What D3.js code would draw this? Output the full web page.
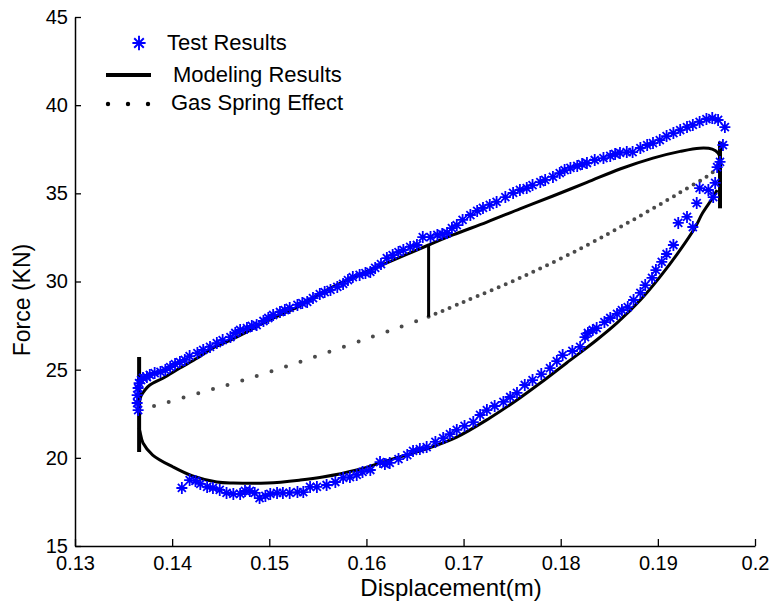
<!DOCTYPE html>
<html>
<head>
<meta charset="utf-8">
<script src="https://cdn.jsdelivr.net/npm/d3@7"></script>
<style>
  html, body { margin: 0; padding: 0; background: #fff; }
  text { font-family: "Liberation Sans", Arial, sans-serif; }
</style>
</head>
<body>
<svg id="chart" width="771" height="607"></svg>
<script>
// ---- data ----
const xTicks = [0.13, 0.14, 0.15, 0.16, 0.17, 0.18, 0.19, 0.2];
const xTickLabels = ["0.13", "0.14", "0.15", "0.16", "0.17", "0.18", "0.19", "0.2"];
const yTicks = [15, 20, 25, 30, 35, 40, 45];
const yTickLabels = ["15", "20", "25", "30", "35", "40", "45"];
const legendLabels = ["Test Results", "Modeling Results", "Gas Spring Effect"];

// Test results (upper branch, loading)
const testUpperX = [0.1364,0.1364,0.1365,0.1365,0.1366,0.1368,0.1370,0.1374,0.1377,0.1382,0.1388,0.1393,0.1398,0.1403,0.1408,0.1413,0.1418,0.1426,0.1432,0.1439,0.1446,0.1452,0.1460,0.1465,0.1470,0.1477,0.1482,0.1487,0.1494,0.1499,0.1504,0.1511,0.1516,0.1521,0.1529,0.1534,0.1539,0.1545,0.1552,0.1557,0.1563,0.1570,0.1576,0.1581,0.1586,0.1593,0.1599,0.1604,0.1609,0.1615,0.1621,0.1627,0.1633,0.1638,0.1645,0.1652,0.1658,0.1666,0.1673,0.1678,0.1683,0.1688,0.1693,0.1699,0.1707,0.1714,0.1720,0.1727,0.1734,0.1743,0.1751,0.1758,0.1765,0.1771,0.1779,0.1784,0.1792,0.1799,0.1804,0.1810,0.1817,0.1822,0.1827,0.1835,0.1844,0.1851,0.1856,0.1861,0.1868,0.1874,0.1882,0.1889,0.1895,0.1902,0.1909,0.1916,0.1923,0.1930,0.1936,0.1943,0.1950,0.1956,0.1962,0.1969];
const testUpperY = [23.11,23.56,23.96,22.71,24.24,24.41,24.53,24.58,24.70,24.81,24.87,24.98,25.15,25.32,25.43,25.55,25.77,25.94,26.12,26.29,26.51,26.68,26.85,27.08,27.25,27.36,27.48,27.53,27.76,27.93,28.10,28.27,28.38,28.50,28.67,28.78,28.84,29.06,29.29,29.40,29.52,29.69,29.86,30.08,30.25,30.37,30.48,30.54,30.77,30.99,31.33,31.50,31.67,31.79,31.96,32.07,32.52,32.52,32.64,32.69,32.75,33.03,33.20,33.49,33.77,34.00,34.17,34.34,34.51,34.79,35.02,35.19,35.30,35.47,35.64,35.76,35.93,36.15,36.32,36.44,36.55,36.66,36.72,36.89,37.00,37.12,37.23,37.29,37.34,37.34,37.57,37.74,37.85,38.02,38.25,38.42,38.59,38.76,38.88,39.05,39.21,39.27,39.16,38.76];

// Test results (lower branch, unloading)
const testLowerX = [0.1967,0.1964,0.1961,0.1959,0.1957,0.1952,0.1943,0.1940,0.1936,0.1930,0.1921,0.1916,0.1909,0.1904,0.1898,0.1894,0.1887,0.1882,0.1875,0.1869,0.1863,0.1858,0.1851,0.1845,0.1837,0.1833,0.1828,0.1825,0.1820,0.1812,0.1802,0.1796,0.1789,0.1780,0.1771,0.1763,0.1755,0.1748,0.1741,0.1732,0.1724,0.1717,0.1710,0.1701,0.1693,0.1686,0.1679,0.1671,0.1662,0.1655,0.1648,0.1642,0.1633,0.1624,0.1619,0.1614,0.1604,0.1596,0.1590,0.1583,0.1576,0.1568,0.1559,0.1549,0.1542,0.1535,0.1529,0.1521,0.1514,0.1508,0.1501,0.1496,0.1490,0.1485,0.1480,0.1475,0.1470,0.1463,0.1456,0.1449,0.1442,0.1436,0.1429,0.1424,0.1418,0.1410];
const testLowerY = [37.74,36.78,36.49,35.59,34.79,35.19,35.30,34.45,33.09,33.66,33.32,32.07,31.56,31.11,30.65,30.20,29.80,29.35,28.95,28.55,28.38,28.16,27.93,27.70,27.36,27.25,27.08,26.85,26.29,26.06,25.83,25.49,25.09,24.75,24.41,24.13,23.68,23.45,23.17,22.94,22.71,22.43,22.03,21.81,21.58,21.35,21.12,20.90,20.61,20.50,20.39,20.16,19.93,19.71,19.65,19.76,19.31,19.20,19.03,18.91,18.86,18.63,18.46,18.35,18.35,18.06,18.06,18.01,18.01,18.01,17.95,17.84,17.72,18.01,18.12,18.12,17.95,17.95,18.01,18.18,18.29,18.35,18.52,18.69,18.74,18.29];

// Modeling results
const modelUpperX = [0.1366,0.1368,0.1372,0.1377,0.1391,0.1408,0.1426,0.1442,0.1460,0.1477,0.1494,0.1511,0.1529,0.1545,0.1563,0.1586,0.1621,0.1664,0.1689,0.1724,0.1758,0.1792,0.1827,0.1861,0.1895,0.1923,0.1943,0.1956,0.1962,0.1965];
const modelUpperY = [23.11,23.51,23.85,24.13,24.53,25.09,25.66,26.23,26.68,27.14,27.65,28.10,28.55,29.06,29.63,30.22,31.05,32.07,32.64,33.37,34.12,34.85,35.62,36.38,37.00,37.38,37.56,37.51,37.29,36.89];
const modelLowerX = [0.1961,0.1957,0.1946,0.1938,0.1923,0.1902,0.1882,0.1858,0.1837,0.1806,0.1779,0.1755,0.1727,0.1693,0.1658,0.1624,0.1590,0.1555,0.1532,0.1498,0.1463,0.1446,0.1421,0.1401,0.1380,0.1370,0.1367,0.1366];
const modelLowerY = [35.19,34.79,33.88,33.03,31.79,30.25,28.95,27.65,26.68,25.38,24.24,23.28,22.26,21.18,20.44,19.88,19.31,18.91,18.74,18.57,18.57,18.63,18.97,19.48,20.16,20.84,21.46,21.69];
// vertical jumps of the model: [x, yBottom, yTop]
const modelJumpX = [0.1366, 0.1664, 0.1964];
const modelJumpLow = [20.33, 28.00, 34.15];
const modelJumpHigh = [25.72, 32.07, 37.93];
const modelJumpWidth = [4, 3, 4];

// Gas spring effect (dotted)
const gasLeftX = [0.1366,0.1381,0.1428,0.1474,0.1534,0.1626,0.1664];
const gasLeftY = [22.77,22.94,23.68,24.41,25.49,27.25,28.00];
const gasRightX = [0.1664,0.1700,0.1762,0.1824,0.1873,0.1922,0.1956,0.1962];
const gasRightY = [28.00,28.84,30.30,31.97,33.45,35.02,36.17,36.50];

// ---- layout ----
const svg = d3.select("#chart");
const x = d3.scaleLinear().domain([0.13, 0.2]).range([75, 755]);
const y = d3.scaleLinear().domain([15, 45]).range([546, 17]);

const zip = (xs, ys) => xs.map((v, i) => [v, ys[i]]);
const line = d3.line().x(d => x(d[0])).y(d => y(d[1]));
const smooth = d3.line().x(d => x(d[0])).y(d => y(d[1])).curve(d3.curveCatmullRom.alpha(0.5));

// gas spring dotted curve
const gasG = svg.append("g");
[[gasLeftX, gasLeftY, "0,15.3"], [gasRightX, gasRightY, "0,7.6"]].forEach(([xs, ys, dash]) => {
  gasG.append("path")
    .attr("d", smooth(zip(xs, ys)))
    .attr("fill", "none")
    .attr("stroke", "#4a4a4a")
    .attr("stroke-width", 4)
    .attr("stroke-linecap", "round")
    .attr("stroke-dasharray", dash);
});

// model
const modelG = svg.append("g");
[[modelUpperX, modelUpperY], [modelLowerX, modelLowerY]].forEach(([xs, ys]) => {
  modelG.append("path")
    .attr("d", smooth(zip(xs, ys)))
    .attr("fill", "none")
    .attr("stroke", "#000")
    .attr("stroke-width", 3)
    .attr("stroke-linejoin", "round");
});
modelJumpX.forEach((xv, i) => {
  modelG.append("path")
    .attr("d", line([[xv, modelJumpLow[i]], [xv, modelJumpHigh[i]]]))
    .attr("stroke", "#000")
    .attr("stroke-width", modelJumpWidth[i]);
});

// test markers
const star = "M-5.5,0H5.5M0,-6V6M-4,-4L4,4M-4,4L4,-4";
const testPts = zip(testUpperX, testUpperY).concat(zip(testLowerX, testLowerY));
svg.append("g").selectAll("path").data(testPts).join("path")
  .attr("transform", d => `translate(${x(d[0])},${y(d[1])})`)
  .attr("d", star)
  .attr("fill", "none")
  .attr("stroke", "#0000ff")
  .attr("stroke-width", 1.8);

// axes
const xAxis = d3.axisBottom(x).tickValues(xTicks).tickFormat((d, i) => xTickLabels[i])
  .tickSizeInner(-7).tickSizeOuter(0).tickPadding(10);
const yAxis = d3.axisLeft(y).tickValues(yTicks).tickFormat((d, i) => yTickLabels[i])
  .tickSizeInner(-6).tickSizeOuter(0).tickPadding(7);

const gx = svg.append("g").attr("transform", "translate(0,546)").call(xAxis);
const gy = svg.append("g").attr("transform", "translate(75,0)").call(yAxis);
[gx, gy].forEach(g => {
  g.select(".domain").attr("stroke", "#000").attr("stroke-width", 1.5);
  g.selectAll(".tick line").attr("stroke", "#000").attr("stroke-width", 1.3);
  g.selectAll(".tick text").attr("fill", "#000")
    .style("font-family", "'Liberation Sans', Arial, sans-serif").style("font-size", "20px");
});

// axis titles
svg.append("text").attr("x", 451).attr("y", 596).attr("text-anchor", "middle")
  .style("font-size", "24px").text("Displacement(m)");
svg.append("text").attr("transform", "translate(30,300) rotate(-90)").attr("text-anchor", "middle")
  .style("font-size", "23px").text("Force (KN)");

// legend
const lg = svg.append("g");
lg.append("path").attr("transform", "translate(139,43) scale(1.2)").attr("d", star)
  .attr("fill", "none").attr("stroke", "#0000ff").attr("stroke-width", 1.6);
lg.append("line").attr("x1", 106).attr("x2", 151).attr("y1", 75).attr("y2", 75)
  .attr("stroke", "#000").attr("stroke-width", 4);
[108, 128, 148].forEach(cx => lg.append("circle").attr("cx", cx).attr("cy", 104).attr("r", 2.2).attr("fill", "#000"));
const legX = [167, 173, 171];
const legY = [50, 82, 110];
legendLabels.forEach((t, i) => {
  lg.append("text").attr("x", legX[i]).attr("y", legY[i]).style("font-size", "22px").attr("fill", "#000").text(t);
});
</script>
</body>
</html>
